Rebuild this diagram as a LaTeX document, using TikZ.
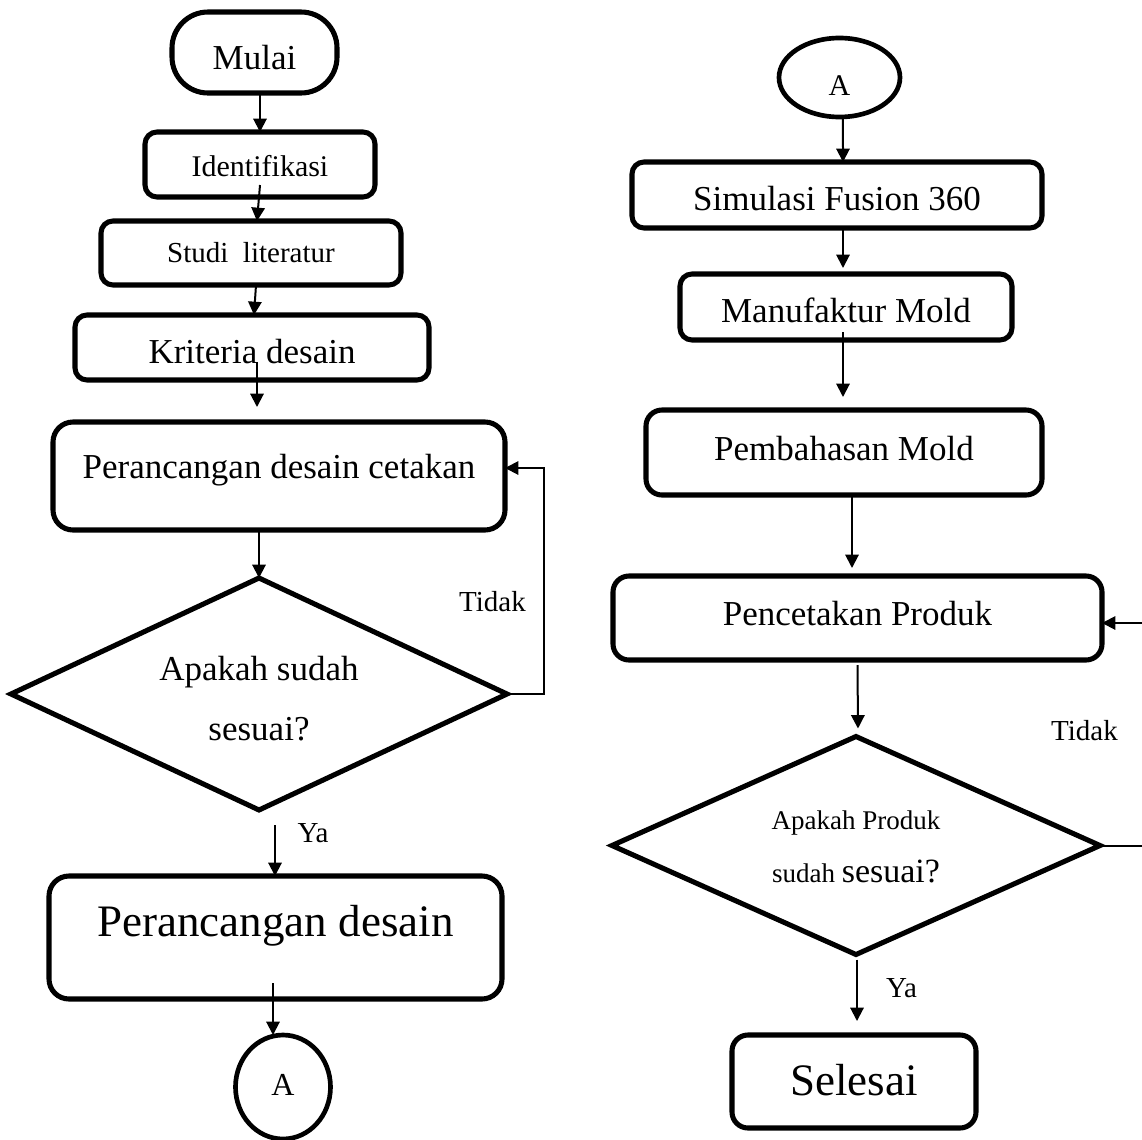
\documentclass[tikz,border=0pt]{standalone}
\usepackage{fontspec}
\setmainfont{Liberation Serif}
\usetikzlibrary{shapes.geometric,arrows.meta}
\begin{document}
\begin{tikzpicture}[x=0.75pt,y=-0.75pt,
  box/.style={draw, line width=3.8pt, rounded corners=9pt, inner sep=0pt, outer sep=0pt},
  dia/.style={draw, diamond, line width=3.8pt, inner sep=0pt, outer sep=0pt},
  oval/.style={draw, ellipse, line width=3.5pt, inner sep=0pt, outer sep=0pt},
  arr/.style={line width=1.5pt, -{Triangle[length=10pt,width=10pt]}},
  fM/.style={font=\fontsize{26.25pt}{31.5pt}\selectfont},
  fL/.style={font=\fontsize{33.75pt}{40.5pt}\selectfont},
  fS/.style={font=\fontsize{22.5pt}{27pt}\selectfont},
  fT/.style={font=\fontsize{21.75pt}{26pt}\selectfont},
  lab/.style={fT, anchor=base, inner sep=0pt}
]
\useasboundingbox (0,0) rectangle (1142,1139);
\clip (0,0) rectangle (1142,1139);

% ---------- left column ----------
\node[box, fM, rounded corners=27pt, minimum width=123.75pt, minimum height=60.75pt] (mulai) at (254.5,52.5)
  {\raisebox{-12.375pt}[0pt][0pt]{Mulai}};
\node[box, fS, minimum width=172.5pt, minimum height=48.75pt] (ident) at (260,164.5)
  {\raisebox{-8.625pt}[0pt][0pt]{Identifikasi}};
\node[box, fT, minimum width=225pt, minimum height=48pt] (studi) at (251,253)
  {\raisebox{-6.75pt}[0pt][0pt]{Studi\ \ literatur}};
\node[box, fM, minimum width=265.5pt, minimum height=48.75pt] (krit) at (252,347.5)
  {\raisebox{-11.625pt}[0pt][0pt]{Kriteria desain}};
\node[box, fM, rounded corners=15pt, minimum width=339pt, minimum height=81pt] (perc1) at (279,476)
  {\raisebox{-1.5pt}[0pt][0pt]{Perancangan desain cetakan}};
\node[dia, fM, minimum width=372pt, minimum height=174pt] (d1) at (259,694)
  {\raisebox{-34.5pt}[0pt][0pt]{\begin{tabular}[b]{@{}c@{}}Apakah sudah\\[13.5pt]sesuai?\end{tabular}}};
\node[lab] (tidak1) at (492.5,611) {Tidak};
\node[box, fL, rounded corners=15pt, minimum width=339.75pt, minimum height=92.25pt] (perc2) at (275.5,937.5)
  {\raisebox{0.4pt}[0pt][0pt]{Perancangan desain}};
\node[lab] (ya1) at (313,842) {Ya};
\node[oval, font=\fontsize{24pt}{28pt}\selectfont, minimum width=71.25pt, minimum height=78pt] (cA) at (283,1087)
  {\raisebox{-6pt}[0pt][0pt]{A}};

\coordinate (k-s) at (257,362);
\coordinate (k-e) at (257,407);
\coordinate (lp) at (544,468);
\coordinate (ya1s) at (275,825);
\coordinate (p2s) at (273,983);

\draw[arr] (ident.north |- mulai.south) -- (ident.north);
\draw[arr] ([yshift=9pt]ident.south) -- ([xshift=4.5pt]studi.north);
\draw[arr] ([xshift=3.75pt]studi.south) -- ([xshift=1.5pt]krit.north);
\draw[arr] (k-s) -- (k-e);
\draw[arr] (d1.north |- perc1.south) -- (d1.north);
\draw[arr] (d1.east) -| (lp) -- (lp -| perc1.east);
\draw[arr] (ya1s) -- (ya1s |- perc2.north);
\draw[arr] (p2s) -- (p2s |- cA.north);

% ---------- right column ----------
\node[oval, fS, minimum width=90.75pt, minimum height=59.25pt] (cA2) at (839.5,77.5)
  {\raisebox{-13.125pt}[0pt][0pt]{A}};
\node[box, fM, minimum width=307.5pt, minimum height=49.5pt] (sim) at (837,195)
  {\raisebox{-11.25pt}[0pt][0pt]{Simulasi Fusion 360}};
\node[box, fM, minimum width=249pt, minimum height=49.5pt] (manu) at (846,307)
  {\raisebox{-11.25pt}[0pt][0pt]{Manufaktur Mold}};
\node[box, fM, rounded corners=12pt, minimum width=297pt, minimum height=63.75pt] (pemb) at (844,452.5)
  {\raisebox{-5.625pt}[0pt][0pt]{Pembahasan Mold}};
\node[box, fM, rounded corners=12pt, minimum width=366.75pt, minimum height=63pt] (pc) at (857.5,618)
  {\raisebox{-5.25pt}[0pt][0pt]{Pencetakan Produk}};
\node[dia, font=\fontsize{20.25pt}{24.3pt}\selectfont, minimum width=366pt, minimum height=163.5pt] (d2) at (856,845.5)
  {\raisebox{-27.375pt}[0pt][0pt]{\begin{tabular}[b]{@{}c@{}}Apakah Produk\\[15pt]sudah {\fontsize{25.5pt}{30.6pt}\selectfont sesuai?}\end{tabular}}};
\node[lab] (tidak2) at (1084.5,740) {Tidak};
\node[lab] (ya2) at (901.5,997) {Ya};
\node[box, fL, rounded corners=12pt, minimum width=183pt, minimum height=69.75pt] (sel) at (854,1081.5)
  {\raisebox{-10.125pt}[0pt][0pt]{Selesai}};

\coordinate (fb) at (1160,623);

\draw[arr] ([xshift=2.6pt]cA2.south) -- ([xshift=4.5pt]sim.north);
\draw[arr] ([xshift=4.5pt]sim.south) -- ([shift={(-3,-6)}]manu.north);
\draw[arr] ([shift={(-3,25)}]manu.center) -- ([shift={(-1,-13)}]pemb.north);
\draw[arr] ([xshift=6pt]pemb.south) -- ([shift={(-5.5,-8)}]pc.north);
\draw[arr] ([shift={(0,5)}]pc.south) -- ([shift={(2,-8)}]d2.north);
\draw[arr] (d2.east) -| (fb) -- (fb -| pc.east);
\draw[arr] ([shift={(1,5)}]d2.south) -- ([shift={(3,-14)}]sel.north);
\end{tikzpicture}
\end{document}
